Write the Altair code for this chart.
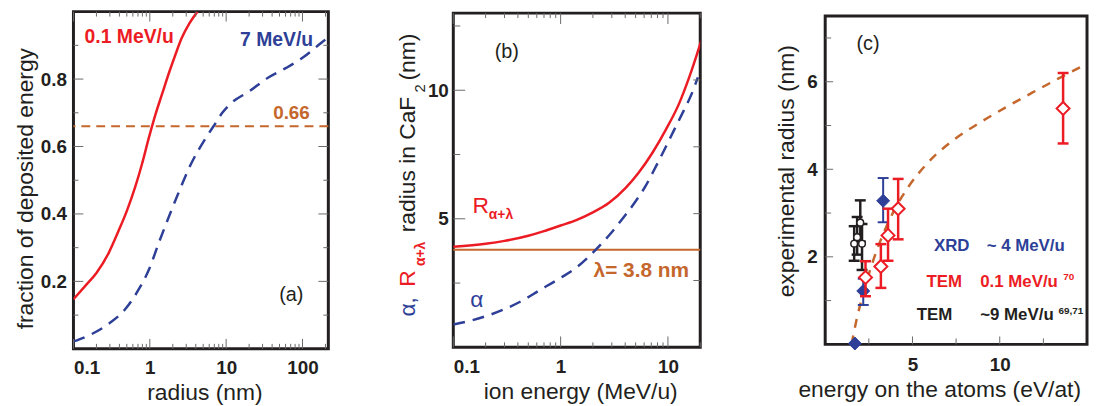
import altair as alt
import pandas as pd

FONT = "Liberation Sans"
RED = "#ec1c24"
BLUE = "#2e3f98"
ORANGE = "#c5672c"
INK = "#231f20"
TICK = "#6a6a6a"

# ---------------- panel (a): fraction of deposited energy vs radius ----------------
A_R_RED = [0.1, 0.142, 0.2, 0.289, 0.39, 0.502, 0.644, 0.792, 0.975, 1.19, 1.46, 1.78, 2.17, 2.6, 3.3, 4.2]
A_F_RED = [0.147, 0.186, 0.225, 0.284, 0.350, 0.410, 0.480, 0.549, 0.627, 0.696, 0.758, 0.818, 0.873, 0.920, 0.965, 1.0]
A_R_BLUE = [0.1, 0.174, 0.289, 0.478, 0.715, 0.975, 1.31, 1.78, 2.40, 3.41, 5.34, 6.83, 8.9, 11.3, 20.5, 35.3, 61, 100, 175, 220]
A_F_BLUE = [0.022, 0.044, 0.074, 0.118, 0.176, 0.235, 0.314, 0.392, 0.465, 0.545, 0.623, 0.66, 0.70, 0.726, 0.765, 0.804, 0.833, 0.863, 0.907, 0.925]
A_LEVEL = [0.66]
A_X_DOMAIN = [0.1, 218]
A_Y_DOMAIN = [0, 1]
A_X_MAJOR = [0.1, 1, 10, 100]
A_X_MINOR = [0.2, 0.3, 0.4, 0.5, 0.6, 0.7, 0.8, 0.9, 2, 3, 4, 5, 6, 7, 8, 9,
             20, 30, 40, 50, 60, 70, 80, 90, 200]
A_Y_MAJOR = [0.2, 0.4, 0.6, 0.8]
A_Y_MINOR = [0.1, 0.3, 0.5, 0.7, 0.9]

# ---------------- panel (b): radius vs ion energy ----------------
B_E_RED = [0.1, 0.2, 0.3, 0.5, 0.7, 1.0, 1.4, 2.0, 2.83, 4.04, 5.35, 7.2, 9.57, 12.7, 15.8, 19.5, 20.5]
B_R_RED = [3.91, 4.03, 4.14, 4.34, 4.52, 4.74, 4.95, 5.25, 5.62, 6.20, 6.80, 7.58, 8.47, 9.48, 10.51, 11.66, 11.95]
B_E_BLUE = [0.1, 0.149, 0.214, 0.306, 0.44, 0.63, 0.96, 1.38, 2.13, 2.94, 3.9, 5.0, 6.2, 7.71, 9.57, 11.4, 13.7, 16.4, 19.0]
B_R_BLUE = [0.89, 1.05, 1.25, 1.50, 1.82, 2.21, 2.66, 3.08, 3.80, 4.44, 5.08, 5.68, 6.28, 7.03, 7.80, 8.45, 9.12, 9.80, 10.50]
B_LAMBDA = [3.8]
B_X_DOMAIN = [0.1, 20]
B_Y_DOMAIN = [0, 13]
B_X_MAJOR = [0.1, 1, 10]
B_X_MINOR = [0.2, 0.3, 0.4, 0.5, 0.6, 0.7, 0.8, 0.9, 2, 3, 4, 5, 6, 7, 8, 9, 20]
B_Y_MAJOR = [5, 10]
B_Y_MINOR = [2.5, 7.5, 12.5]
B_Y_RIGHT = [2.6, 5.2, 7.8, 10.4]

# ---------------- panel (c): experimental radius vs energy on atoms ----------------
C_CURVE_X = [1.51, 1.79, 2.17, 2.72, 3.28, 4.03, 4.77, 5.93, 7.39, 8.88, 10.37, 11.86, 13.35, 14.84]
C_CURVE_Y = [0.0, 0.55, 1.15, 1.88, 2.48, 3.12, 3.60, 4.17, 4.68, 5.07, 5.42, 5.75, 6.07, 6.38]
C_XRD_X = [1.70, 2.18, 3.32]
C_XRD_Y = [0.02, 1.22, 3.28]
C_XRD_ERR_X = [2.18, 3.32]
C_XRD_LO = [0.90, 2.79]
C_XRD_HI = [1.50, 3.80]
C_TEM1_X = [2.31, 3.19, 3.60, 4.18, 13.63]
C_TEM1_Y = [1.53, 1.78, 2.49, 3.10, 5.39]
C_TEM1_LO = [1.10, 1.29, 1.91, 2.40, 4.59]
C_TEM1_HI = [1.90, 2.29, 3.10, 3.78, 6.20]
C_TEM9_X = [1.66, 1.83, 2.01, 2.11]
C_TEM9_Y = [2.30, 2.45, 2.78, 2.30]
C_TEM9_LO = [1.91, 2.05, 2.35, 1.70]
C_TEM9_HI = [2.70, 2.91, 3.29, 2.75]
C_X_DOMAIN = [0, 15]
C_Y_DOMAIN = [0, 7.5]
C_X_MAJOR = [5, 10]
C_X_MINOR = [2.5, 7.5, 12.5]
C_Y_MAJOR = [2, 4, 6]
C_Y_MINOR = [1, 3, 5, 7]

WA, HA = 257, 340
WB, HB = 249, 337
WC, HC = 264, 331


def xa(field="x"):
    return alt.X(f"{field}:Q", scale=alt.Scale(type="log", domain=A_X_DOMAIN, nice=False),
                 axis=alt.Axis(values=A_X_MAJOR, format="~g", title="radius (nm)", titleX=132,
                               labelPadding=10, titlePadding=4))


def ya(field="y"):
    return alt.Y(f"{field}:Q", scale=alt.Scale(domain=A_Y_DOMAIN, nice=False),
                 axis=alt.Axis(values=A_Y_MAJOR, format=".1f", title="fraction of deposited energy",
                               titleY=178, labelPadding=7, titlePadding=3))


def xb(field="x"):
    return alt.X(f"{field}:Q", scale=alt.Scale(type="log", domain=B_X_DOMAIN, nice=False),
                 axis=alt.Axis(values=B_X_MAJOR, format="~g", title="ion energy (MeV/u)", titleX=128,
                               labelPadding=10, titlePadding=5))


def yb(field="y"):
    return alt.Y(f"{field}:Q", scale=alt.Scale(domain=B_Y_DOMAIN, nice=False),
                 axis=alt.Axis(values=B_Y_MAJOR, format="d", title=None, labelPadding=5))


def xc(field="x"):
    return alt.X(f"{field}:Q", scale=alt.Scale(domain=C_X_DOMAIN, nice=False),
                 axis=alt.Axis(values=C_X_MAJOR, format="d", title="energy on the atoms (eV/at)",
                               titleX=115, labelPadding=11, titlePadding=5))


def yc(field="y"):
    return alt.Y(f"{field}:Q", scale=alt.Scale(domain=C_Y_DOMAIN, nice=False),
                 axis=alt.Axis(values=C_Y_MAJOR, format="d", title="experimental radius (nm)",
                               titleY=156, labelPadding=8, titlePadding=8))


def lin_at(domain, size):
    # data value at a pixel offset from the start of a linear axis (used for tick lengths)
    return lambda p: domain[0] + (domain[1] - domain[0]) * p / size


def log_at(domain, size):
    return lambda p: domain[0] * (domain[1] / domain[0]) ** (p / size)


def ticks(xe, ye, x_at, y_at, W, H, xs, ys, top=True, right=True, yright=None, right_len=7):
    """Inward frame ticks drawn as short rules."""
    out = []
    for vals, ln in xs:
        sides = [(y_at(0), y_at(ln))]
        if top:
            sides.append((y_at(H), y_at(H - ln)))
        for a, b in sides:
            df = pd.DataFrame({"x": vals, "ya": [a] * len(vals), "yb": [b] * len(vals)})
            out.append(alt.Chart(df).mark_rule(color=TICK, strokeWidth=1, opacity=1).encode(
                x=xe(), y=ye("ya"), y2=alt.Y2("yb")))
    yset = [(vals, ln, x_at(0), x_at(ln)) for vals, ln in ys]
    if right:
        if yright is None:
            yset += [(vals, ln, x_at(W), x_at(W - ln)) for vals, ln in ys]
        else:
            yset.append((yright, right_len, x_at(W), x_at(W - right_len)))
    for vals, ln, a, b in yset:
        df = pd.DataFrame({"y": vals, "xa": [a] * len(vals), "xb": [b] * len(vals)})
        out.append(alt.Chart(df).mark_rule(color=TICK, strokeWidth=1, opacity=1).encode(
            y=ye(), x=xe("xa"), x2=alt.X2("xb")))
    return out


def txt(xe, ye, x, y, t, color, size, weight="normal"):
    df = pd.DataFrame({"x": [x], "y": [y], "t": [t]})
    return alt.Chart(df).mark_text(color=color, fontSize=size, fontWeight=weight, font=FONT,
                                   align="left", baseline="alphabetic").encode(
        x=xe(), y=ye(), text="t:N")


def vtxt(px, py, t, color, size, weight="normal"):
    df = pd.DataFrame({"t": [t]})
    return alt.Chart(df).mark_text(color=color, fontSize=size, fontWeight=weight, font=FONT,
                                   align="left", baseline="alphabetic", angle=270).encode(
        x=alt.value(px), y=alt.value(py), text="t:N")


# ---------- panel (a) ----------
a_red = alt.Chart(pd.DataFrame({"x": A_R_RED, "y": A_F_RED})).mark_line(
    color=RED, strokeWidth=2.5, interpolate="monotone", clip=True).encode(x=xa(), y=ya())
a_blue = alt.Chart(pd.DataFrame({"x": A_R_BLUE, "y": A_F_BLUE})).mark_line(
    color=BLUE, strokeWidth=2.5, strokeDash=[12, 8], interpolate="monotone", clip=True).encode(x=xa(), y=ya())
a_level = alt.Chart(pd.DataFrame({"y": A_LEVEL})).mark_rule(
    color=ORANGE, strokeWidth=2, strokeDash=[9, 6]).encode(y=ya())
a_layers = [a_level, a_blue, a_red]
a_layers += ticks(xa, ya, log_at(A_X_DOMAIN, WA), lin_at(A_Y_DOMAIN, HA), WA, HA,
                  [(A_X_MAJOR, 10), (A_X_MINOR, 5)], [(A_Y_MAJOR, 10), (A_Y_MINOR, 5)])
a_layers += [txt(xa, ya, 0.140, 0.907, "0.1 MeV/u", RED, 19.5, "bold"),
             txt(xa, ya, 15.2, 0.897, "7 MeV/u", BLUE, 19.5, "bold"),
             txt(xa, ya, 41.3, 0.681, "0.66", ORANGE, 19, "bold"),
             txt(xa, ya, 49.5, 0.142, "(a)", INK, 20)]
panel_a = alt.layer(*a_layers).properties(width=WA, height=HA)

# ---------- panel (b) ----------
b_red = alt.Chart(pd.DataFrame({"x": B_E_RED, "y": B_R_RED})).mark_line(
    color=RED, strokeWidth=2.5, interpolate="monotone", clip=True).encode(x=xb(), y=yb())
b_blue = alt.Chart(pd.DataFrame({"x": B_E_BLUE, "y": B_R_BLUE})).mark_line(
    color=BLUE, strokeWidth=2.5, strokeDash=[12, 8], interpolate="monotone", clip=True).encode(x=xb(), y=yb())
b_lambda = alt.Chart(pd.DataFrame({"y": B_LAMBDA})).mark_rule(
    color=ORANGE, strokeWidth=2).encode(y=yb())
b_layers = [b_lambda, b_blue, b_red]
b_layers += ticks(xb, yb, log_at(B_X_DOMAIN, WB), lin_at(B_Y_DOMAIN, HB), WB, HB,
                  [(B_X_MAJOR, 11), (B_X_MINOR, 5)], [(B_Y_MAJOR, 12), (B_Y_MINOR, 7)],
                  yright=B_Y_RIGHT)
b_layers += [txt(xb, yb, 0.243, 11.25, "(b)", INK, 20),
             txt(xb, yb, 0.151, 5.23, "R", RED, 23),
             txt(xb, yb, 0.214, 5.0, "α+λ", RED, 14, "bold"),
             txt(xb, yb, 0.144, 1.57, "α", BLUE, 23),
             txt(xb, yb, 2.03, 2.73, "λ= 3.8 nm", ORANGE, 21, "bold"),
             vtxt(-39, 306, "α,", BLUE, 23),
             vtxt(-39, 276, "R", RED, 23),
             vtxt(-29, 255, "α+λ", RED, 14, "bold"),
             vtxt(-39, 221, "radius in CaF", INK, 23),
             vtxt(-29, 80, "2", INK, 15),
             vtxt(-39, 68, "(nm)", INK, 23)]
panel_b = alt.layer(*b_layers).properties(width=WB, height=HB)

# ---------- panel (c) ----------
c_curve = alt.Chart(pd.DataFrame({"x": C_CURVE_X, "y": C_CURVE_Y})).mark_line(
    color=ORANGE, strokeWidth=2.5, strokeDash=[9, 8], interpolate="monotone", clip=True).encode(x=xc(), y=yc())


def errbars(xs, lo, hi, color, width):
    df = pd.DataFrame({"x": xs, "lo": lo, "hi": hi})
    base = alt.Chart(df)
    return [base.mark_rule(color=color, strokeWidth=width).encode(x=xc(), y=yc("lo"), y2="hi:Q"),
            base.mark_tick(color=color, orient="horizontal", size=11, thickness=width, opacity=1).encode(x=xc(), y=yc("lo")),
            base.mark_tick(color=color, orient="horizontal", size=11, thickness=width, opacity=1).encode(x=xc(), y=yc("hi"))]


c_tem9 = alt.Chart(pd.DataFrame({"x": C_TEM9_X, "y": C_TEM9_Y})).mark_point(
    shape="circle", filled=True, fill="white", stroke=INK, strokeWidth=1.5, size=45, opacity=1).encode(x=xc(), y=yc())
c_xrd = alt.Chart(pd.DataFrame({"x": C_XRD_X, "y": C_XRD_Y})).mark_point(
    shape="diamond", filled=True, fill=BLUE, stroke=BLUE, strokeWidth=1, size=170, opacity=1).encode(x=xc(), y=yc())
c_tem1 = alt.Chart(pd.DataFrame({"x": C_TEM1_X, "y": C_TEM1_Y})).mark_point(
    shape="diamond", filled=True, fill="white", stroke=RED, strokeWidth=2, size=170, opacity=1).encode(x=xc(), y=yc())

c_layers = [c_curve]
c_layers += ticks(xc, yc, lin_at(C_X_DOMAIN, WC), lin_at(C_Y_DOMAIN, HC), WC, HC,
                  [(C_X_MAJOR, 8), (C_X_MINOR, 6)], [(C_Y_MAJOR, 8), (C_Y_MINOR, 6)],
                  top=False, right=False)
c_layers += errbars(C_TEM9_X, C_TEM9_LO, C_TEM9_HI, INK, 2.5)
c_layers += [c_tem9]
c_layers += errbars(C_XRD_ERR_X, C_XRD_LO, C_XRD_HI, BLUE, 2)
c_layers += [c_xrd]
c_layers += errbars(C_TEM1_X, C_TEM1_LO, C_TEM1_HI, RED, 2.5)
c_layers += [c_tem1,
             txt(xc, yc, 1.79, 6.73, "(c)", INK, 20),
             txt(xc, yc, 6.23, 2.14, "XRD", BLUE, 17, "bold"),
             txt(xc, yc, 9.25, 2.14, "~ 4 MeV/u", BLUE, 17, "bold"),
             txt(xc, yc, 5.80, 1.31, "TEM", RED, 17, "bold"),
             txt(xc, yc, 8.88, 1.31, "0.1 MeV/u", RED, 17, "bold"),
             txt(xc, yc, 13.64, 1.46, "70", RED, 10, "bold"),
             txt(xc, yc, 5.24, 0.55, "TEM", INK, 17, "bold"),
             txt(xc, yc, 8.88, 0.55, "~9 MeV/u", INK, 17, "bold"),
             txt(xc, yc, 13.36, 0.70, "69,71", INK, 10, "bold")]
panel_c = alt.layer(*c_layers).properties(width=WC, height=HC)

chart = alt.hconcat(panel_a, panel_b, panel_c, spacing=126, bounds="flush", center=True).properties(
    padding={"left": 5, "top": 0, "right": 0, "bottom": 0}
).configure_view(
    stroke=INK, strokeWidth=3
).configure_axis(
    ticks=False, tickSize=0, domain=False, grid=False,
    labelFont=FONT, labelFontSize=19, labelFontWeight="bold", labelColor=INK,
    titleFont=FONT, titleFontSize=23, titleFontWeight="normal", titleColor=INK
)

chart.save("out.html", embed_options={"renderer": "svg", "actions": False})
